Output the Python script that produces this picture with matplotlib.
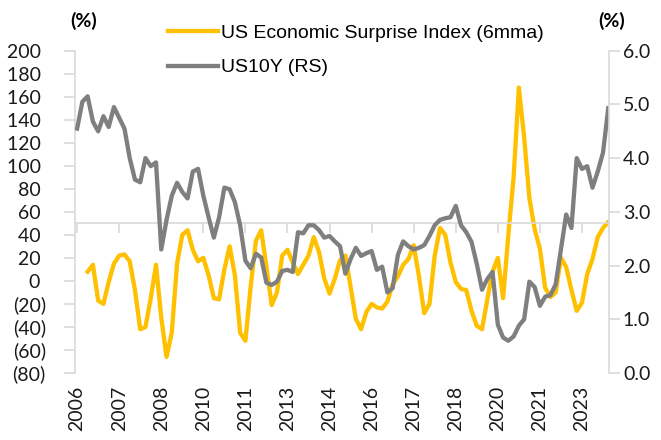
import numpy as np
import matplotlib
matplotlib.use("Agg")
import matplotlib.pyplot as plt

# US 10Y yield (%), right scale, one value per step of the category axis
us10y = [4.55, 5.05, 5.15, 4.68, 4.50, 4.78, 4.58, 4.95, 4.75, 4.55,
         4.00, 3.60, 3.55, 4.00, 3.85, 3.92, 2.30, 2.85, 3.30, 3.54,
         3.37, 3.25, 3.75, 3.80, 3.30, 2.90, 2.52, 2.90, 3.45, 3.42,
         3.18, 2.75, 2.09, 1.95, 2.22, 2.15, 1.68, 1.64, 1.70, 1.90,
         1.92, 1.88, 2.62, 2.60, 2.75, 2.75, 2.66, 2.52, 2.55, 2.45,
         2.36, 1.85, 2.12, 2.33, 2.18, 2.23, 2.27, 1.92, 1.98, 1.50,
         1.58, 2.20, 2.45, 2.36, 2.30, 2.33, 2.38, 2.55, 2.75, 2.85,
         2.88, 2.90, 3.11, 2.75, 2.62, 2.44, 2.03, 1.55, 1.75, 1.88,
         0.90, 0.66, 0.60, 0.68, 0.88, 1.00, 1.70, 1.60, 1.25, 1.42,
         1.45, 1.65, 2.30, 2.95, 2.70, 4.00, 3.80, 3.85, 3.45, 3.75,
         4.10, 4.93]

# US Economic Surprise Index, 6m moving average (left scale), starts 2 steps later
esi_start = 2
esi = [8, 14, -17, -20, -1, 15, 22, 23, 17, -8,
       -42, -40, -15, 14, -32, -66, -45, 15, 40, 44,
       27, 17, 20, 5, -15, -16, 10, 30, 5, -45,
       -52, -5, 35, 44, 12, -21, -10, 22, 27, 16,
       6, 14, 22, 38, 25, 2, -11, 2, 18, 22,
       -5, -33, -42, -27, -20, -23, -24, -18, -3, 4,
       14, 19, 31, 4, -28, -20, 22, 46, 40, 16,
       -1, -7, -8, -26, -39, -42, -16, 8, 20, -15,
       40, 90, 168, 125, 72, 45, 28, -6, -14, -10,
       20, 12, -8, -26, -19, 6, 19, 38, 46, 51]

year_labels = ["2006", "2007", "2008", "2010", "2011", "2013", "2014",
               "2016", "2017", "2018", "2020", "2021", "2023"]
label_step = 8

x_us = np.arange(len(us10y))
x_esi = np.arange(esi_start, esi_start + len(esi))

YELLOW = "#FFC000"
GREY = "#7F7F7F"
AXIS = "#D9D9D9"
FONT = "Lato"

fig = plt.figure(figsize=(6.61, 4.40), dpi=100)
ax = fig.add_axes([0.1135, 0.1523, 0.8079, 0.7325])
ax2 = ax.twinx()

l1, = ax.plot(x_esi, esi, color=YELLOW, lw=3.1, solid_joinstyle="round",
              label="US Economic Surprise Index (6mma)")
l2, = ax2.plot(x_us, us10y, color=GREY, lw=3.1, solid_joinstyle="round",
               label="US10Y (RS)")

ax.set_xlim(-0.4, len(us10y) - 0.85)
ax.set_ylim(-80, 200)
ax2.set_ylim(0, 6)

left_ticks = np.arange(-80, 201, 20)
ax.set_yticks(left_ticks)
ax.set_yticklabels([f"({abs(v)})" if v < 0 else f"{v} " for v in left_ticks])
ax2.set_yticks(np.arange(0, 6.01, 1))
ax2.set_yticklabels([f"{v:.1f}" for v in np.arange(0, 6.01, 1)])

# horizontal axis crosses at 50 on the left scale
for a in (ax, ax2):
    a.spines["top"].set_visible(False)
ax.spines["bottom"].set_position(("data", 50))
ax.spines["bottom"].set_color(AXIS)
ax.spines["bottom"].set_linewidth(1.2)
ax.spines["left"].set_color(AXIS)
ax.spines["left"].set_linewidth(1.2)
ax.spines["right"].set_visible(False)
ax2.spines["left"].set_visible(False)
ax2.spines["bottom"].set_visible(False)
ax2.spines["right"].set_color(AXIS)
ax2.spines["right"].set_linewidth(1.2)

tick_pos = np.arange(len(year_labels)) * label_step
ax.set_xticks(tick_pos)
ax.tick_params(axis="x", length=7, width=1.2, color=AXIS, labelbottom=False)
ax.tick_params(axis="y", length=8, width=1.2, color=AXIS, pad=13,
               labelsize=14, labelcolor="#1a1a1a")
ax2.tick_params(axis="y", length=8, width=1.2, color=AXIS, pad=2,
                labelsize=14, labelcolor="#1a1a1a")

# year labels sit at the bottom of the plot
sec = ax.secondary_xaxis("bottom")
sec.set_xticks(tick_pos)
sec.set_xticklabels(year_labels, rotation=90)
sec.tick_params(length=0, pad=9, labelsize=14, labelcolor="#1a1a1a")
sec.spines["bottom"].set_visible(False)

for t in ax.get_yticklabels() + ax2.get_yticklabels() + sec.get_xticklabels():
    t.set_fontfamily(FONT)

fig.text(0.127, 0.952, "(%)", fontsize=14, fontweight="bold",
         family=FONT, ha="center", va="center")
fig.text(0.926, 0.952, "(%)", fontsize=14, fontweight="bold",
         family=FONT, ha="center", va="center")

fig.legend(handles=[l1, l2], loc="upper left", bbox_to_anchor=(0.254, 0.944),
           frameon=False, handlelength=2.6, handletextpad=0.15,
           labelspacing=0.85, borderpad=0, borderaxespad=0,
           prop={"family": "Liberation Sans", "size": 14})

fig.savefig("out.png", dpi=100)
